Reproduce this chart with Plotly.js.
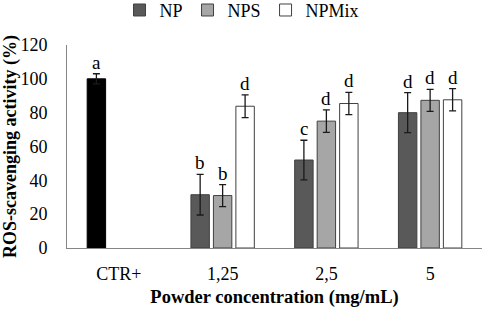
<!DOCTYPE html>
<html>
<head>
<meta charset="utf-8">
<script src="https://cdn.plot.ly/plotly-3.0.1.min.js"></script>
<style>html,body{margin:0;padding:0;background:#fff;}#chart{width:484px;height:312px;}</style>
</head>
<body>
<div id="chart"></div>
<script>
// ---- data ----
const categories = ['CTR+', '1,25', '2,5', '5'];
const ctrCategories = ['CTR+'];
const sampleCategories = ['1,25', '2,5', '5'];

const ctrValues = [100];
const ctrErrors = [3];
const ctrLetters = ['a'];

const npValues = [31.5, 52, 80];
const npErrors = [12, 11.7, 11.8];
const npLetters = ['b', 'c', 'd'];

const npsValues = [31, 75, 87.3];
const npsErrors = [6.5, 6.7, 6.5];
const npsLetters = ['b', 'd', 'd'];

const npmixValues = [83.8, 85.4, 87.6];
const npmixErrors = [6.7, 6.6, 6.6];
const npmixLetters = ['d', 'd', 'd'];

// ---- styling ----
const FONT = '"Liberation Serif", "Times New Roman", serif';
const BARGAP = 0.35;
const GROUPGAP = 0.18;
const NSLOTS = 3;
const slotWidth = (1 - BARGAP) / NSLOTS;
const edge = '#404040';
const errStyle = (arr) => ({type: 'data', array: arr, visible: true, color: '#1a1a1a', thickness: 1.3, width: 3.5});

const traces = [
  {type: 'bar', name: 'CTR+', x: ctrCategories, y: ctrValues, offsetgroup: '1', showlegend: false,
   marker: {color: '#000000', line: {color: '#000000', width: 1}}, error_y: errStyle(ctrErrors), hoverinfo: 'skip'},
  {type: 'bar', name: 'NP', x: sampleCategories, y: npValues, offsetgroup: '1',
   marker: {color: '#595959', line: {color: edge, width: 1}}, error_y: errStyle(npErrors)},
  {type: 'bar', name: 'NPS', x: sampleCategories, y: npsValues, offsetgroup: '2',
   marker: {color: '#a6a6a6', line: {color: edge, width: 1}}, error_y: errStyle(npsErrors)},
  {type: 'bar', name: 'NPMix', x: sampleCategories, y: npmixValues, offsetgroup: '3',
   marker: {color: '#ffffff', line: {color: edge, width: 1}}, error_y: errStyle(npmixErrors)}
];

// letters above error bars
const annotations = [];
function addLetters(cats, vals, errs, letters, slot) {
  cats.forEach((c, i) => {
    annotations.push({
      x: categories.indexOf(c) + (slot - 1) * slotWidth,
      y: vals[i] + errs[i],
      xref: 'x', yref: 'y', text: letters[i], showarrow: false,
      yanchor: 'bottom', xanchor: 'center', yshift: -1,
      font: {family: FONT, size: 19, color: '#000'}
    });
  });
}
addLetters(ctrCategories, ctrValues, ctrErrors, ctrLetters, 0);
addLetters(sampleCategories, npValues, npErrors, npLetters, 0);
addLetters(sampleCategories, npsValues, npsErrors, npsLetters, 1);
addLetters(sampleCategories, npmixValues, npmixErrors, npmixLetters, 2);

const layout = {
  width: 484, height: 312,
  margin: {l: 67, r: 2, t: 45, b: 64},
  paper_bgcolor: '#ffffff', plot_bgcolor: '#ffffff',
  font: {family: FONT, size: 17, color: '#000'},
  barmode: 'group', bargap: BARGAP, bargroupgap: GROUPGAP,
  showlegend: true,
  legend: {orientation: 'h', xref: 'container', yref: 'container', x: 0.5, xanchor: 'center', y: 0.967, yanchor: 'middle',
           font: {family: FONT, size: 18}, itemwidth: 30, traceorder: 'normal', tracegroupgap: 0,
           bgcolor: 'rgba(0,0,0,0)'},
  xaxis: {type: 'category', categoryarray: categories, categoryorder: 'array', range: [-0.5, 3.5],
          showline: true, linecolor: '#868686', linewidth: 1, ticks: '', showgrid: false, zeroline: false,
          tickfont: {family: FONT, size: 18}, ticklabelstandoff: 9,
          title: {text: '<b>Powder concentration (mg/mL)</b>', font: {family: FONT, size: 18.5}, standoff: 7}},
  yaxis: {range: [0, 120], dtick: 20, tick0: 0, showline: true, linecolor: '#868686', linewidth: 1,
          ticks: '', showgrid: false, zeroline: false,
          tickfont: {family: FONT, size: 18}, ticklabelstandoff: 15,
          title: {text: '<b>ROS-scavenging activity (%)</b>', font: {family: FONT, size: 18}, standoff: 7}},
  annotations: annotations
};

Plotly.newPlot('chart', traces, layout, {displayModeBar: false, staticPlot: true});
</script>
</body>
</html>
